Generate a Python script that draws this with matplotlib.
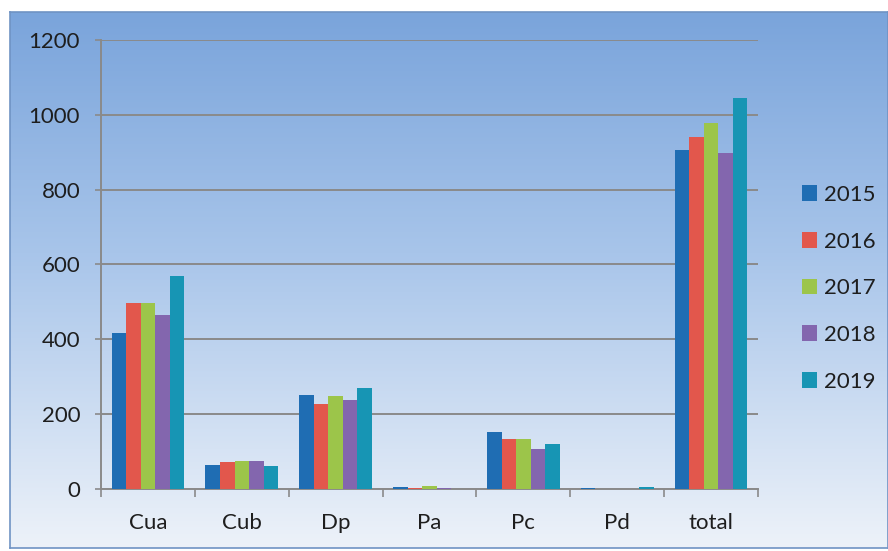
import numpy as np
import matplotlib
matplotlib.use("Agg")
import matplotlib.pyplot as plt
from matplotlib.colors import LinearSegmentedColormap

categories = ["Cua", "Cub", "Dp", "Pa", "Pc", "Pd", "total"]
years = ["2015", "2016", "2017", "2018", "2019"]
v2015 = [416, 65, 252, 5, 152, 3, 906]
v2016 = [497, 73, 226, 2, 133, 1, 941]
v2017 = [497, 76, 248, 8, 133, 1, 977]
v2018 = [464, 76, 237, 3, 108, 1, 899]
v2019 = [569, 61, 270, 1, 119, 5, 1046]
series = [v2015, v2016, v2017, v2018, v2019]
colors = ["#1f6db3", "#e2574c", "#9cc54a", "#8366ae", "#1795b4"]
yticks = [0, 200, 400, 600, 800, 1000, 1200]

plt.rcParams['font.family'] = ['Lato', 'DejaVu Sans']

fig = plt.figure(figsize=(8.88, 5.51), dpi=100)
fig.patch.set_facecolor("white")

# background gradient box
bg = fig.add_axes([10/888, (551-548)/551, 1 - 10/888, (548-12)/551], zorder=0)
cmap = LinearSegmentedColormap.from_list("bg", [(0, "#7aa4db"), (0.45, "#a8c5ea"), (1.0, "#edf2f9")])
grad = np.linspace(0, 1, 256).reshape(-1, 1)
bg.imshow(grad, aspect="auto", cmap=cmap, extent=[0, 1, 0, 1], origin="upper")
bg.set_xticks([]); bg.set_yticks([])
for s in bg.spines.values():
    s.set_color("#6f93c4")
    s.set_linewidth(1.2)

ax = fig.add_axes([101/888, (551-489)/551, (758-101)/888, (489-40)/551], zorder=1)
ax.patch.set_alpha(0)

x = np.arange(len(categories))
n = len(series)
bw = 0.155
for i, (vals, c, yr) in enumerate(zip(series, colors, years)):
    ax.bar(x + (i - (n-1)/2) * bw, vals, width=bw, color=c, label=yr, zorder=3)

ax.set_xlim(-0.5, len(categories) - 0.5)
ax.set_ylim(0, 1200)
ax.set_yticks(yticks)
ax.set_yticklabels([str(t) for t in yticks], fontsize=16, color="#1e1e1e")
ax.yaxis.grid(True, color="#8a8a8a", linewidth=1.4, zorder=1)
ax.set_axisbelow(True)
ax.tick_params(axis="y", length=4, width=1.2, color="#8a8a8a", pad=11)

ax.set_xticks(x)
ax.set_xticklabels(categories, fontsize=16, color="#1e1e1e")
ax.tick_params(axis="x", length=0, pad=17)
ax.set_xticks(np.arange(-0.5, len(categories)), minor=True)
ax.tick_params(axis="x", which="minor", length=6, width=1.2, color="#8a8a8a")

for side in ["top", "right"]:
    ax.spines[side].set_visible(False)
for side in ["left", "bottom"]:
    ax.spines[side].set_color("#8a8a8a")
    ax.spines[side].set_linewidth(1.4)

leg = ax.legend(loc="upper left", bbox_to_anchor=(1.053, 0.697), frameon=False,
                fontsize=16, handlelength=0.7, handleheight=0.7,
                handletextpad=0.3, labelspacing=1.2, borderaxespad=0)
for t in leg.get_texts():
    t.set_color("#1e1e1e")

fig.savefig("out.png", dpi=100)
